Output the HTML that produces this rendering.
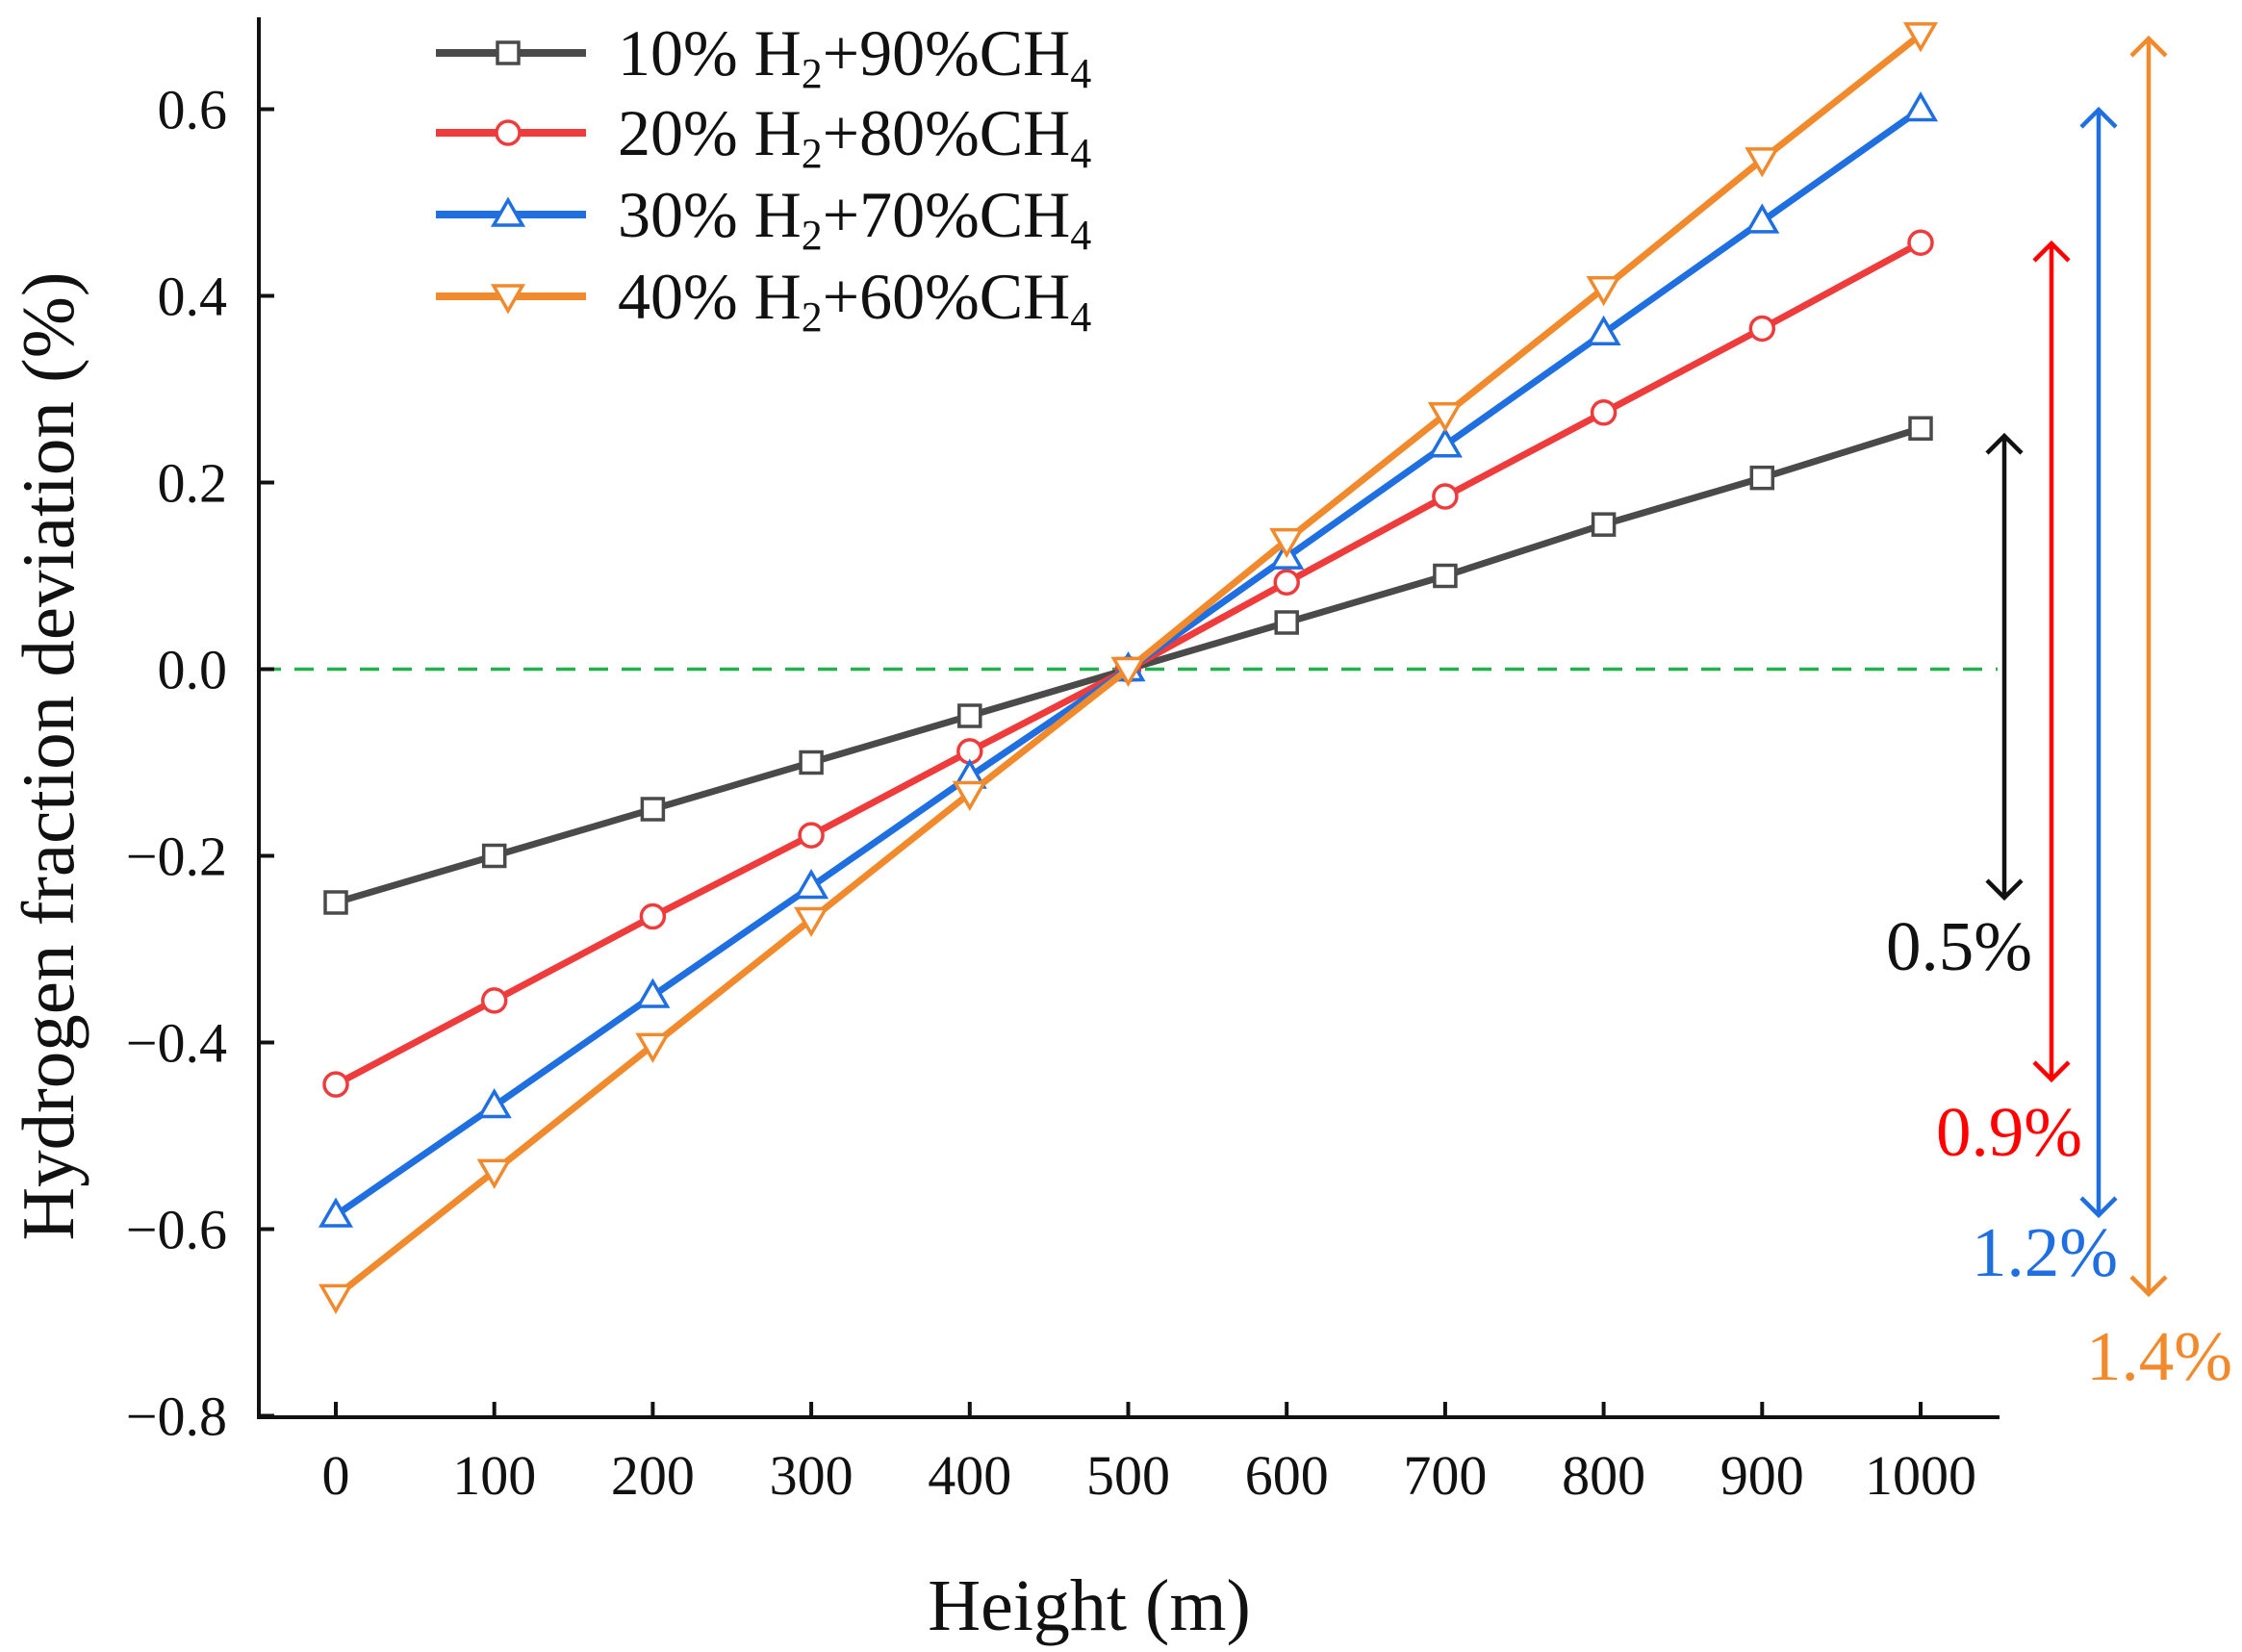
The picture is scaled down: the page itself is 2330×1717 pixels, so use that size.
<!DOCTYPE html>
<html><head><meta charset="utf-8"><style>
html,body{margin:0;padding:0;background:#fff;}
svg{display:block;font-family:"Liberation Serif",serif;}
</style></head><body>
<svg id="chart" width="2330" height="1717" viewBox="0 0 2330 1717">
<g id="plot"></g>
</svg>
<script>
const categories=[0,100,200,300,400,500,600,700,800,900,1000];
const s10=[-0.25,-0.20,-0.15,-0.10,-0.05,0,0.05,0.10,0.155,0.205,0.258];
const s20=[-0.445,-0.355,-0.265,-0.178,-0.088,0,0.093,0.185,0.275,0.365,0.457];
const s30=[-0.585,-0.468,-0.35,-0.233,-0.115,0,0.12,0.24,0.36,0.48,0.6];
const s40=[-0.672,-0.538,-0.403,-0.268,-0.133,0,0.138,0.273,0.408,0.546,0.68];
const yTicks=[0.6,0.4,0.2,0.0,-0.2,-0.4,-0.6,-0.8];
const yTickLabels=["0.6","0.4","0.2","0.0","\u22120.2","\u22120.4","\u22120.6","\u22120.8"];
const seriesNames=["10% H2+90%CH4","20% H2+80%CH4","30% H2+70%CH4","40% H2+60%CH4"];
const rangeLabels=["0.5%","0.9%","1.2%","1.4%"];

const NS="http://www.w3.org/2000/svg";
const g=document.getElementById('plot');
const X=v=>349+(v/1000)*1647;
const Y=v=>695.5-v*970;
function mk(t,a,p){const e=document.createElementNS(NS,t);for(const k in a)e.setAttribute(k,a[k]);(p||g).appendChild(e);return e;}

let e=mk('line',{x1:272,y1:Y(0),x2:2076,y2:Y(0),stroke:'#22b14c','stroke-width':3.5,'stroke-dasharray':'20 14'});



e=mk('line',{x1:269,y1:18,x2:269,y2:1475,stroke:'#111','stroke-width':4});


e=mk('line',{x1:267,y1:1473,x2:2078,y2:1473,stroke:'#111','stroke-width':4});



yTicks.forEach((v,i)=>{
  let t=mk('line',{x1:269,y1:Y(v),x2:285,y2:Y(v),stroke:'#111','stroke-width':4});
  
  
  let l=mk('text',{x:236,y:Y(v)+20,'text-anchor':'end','font-size':58,fill:'#111'});
  l.textContent=yTickLabels[i];
  
  
});
categories.forEach(c=>{
  let t=mk('line',{x1:X(c),y1:1473,x2:X(c),y2:1457,stroke:'#111','stroke-width':4});
  
  
  let l=mk('text',{x:X(c),y:1553,'text-anchor':'middle','font-size':58,fill:'#111'});
  l.textContent=String(c);
  
  
});

let xt=mk('text',{x:1132,y:1694,'text-anchor':'middle','font-size':76,fill:'#111'});
xt.textContent='Height (m)';


let yt=mk('text',{x:0,y:0,'text-anchor':'middle','font-size':77,fill:'#111',transform:'translate(76,786) rotate(-90)'});
yt.textContent='Hydrogen fraction deviation (%)';



const colors=['#4a4a4a','#ee3b3b','#1f6fe0','#f08a2c'];
const shapes=['square','circle','tri-up','tri-down'];
function marker(shape,x,y,c,p){
  const s=13;let m;
  if(shape==='square')m=mk('rect',{x:x-s+2,y:y-s+2,width:2*s-4,height:2*s-4,fill:'#fff',stroke:c,'stroke-width':3.5},p);
  else if(shape==='circle')m=mk('circle',{cx:x,cy:y,r:s-1,fill:'#fff',stroke:c,'stroke-width':3.5},p);
  else if(shape==='tri-up')m=mk('polygon',{points:`${x},${y-s-2} ${x-s-2},${y+s-2} ${x+s+2},${y+s-2}`,fill:'#fff',stroke:c,'stroke-width':3.5},p);
  else m=mk('polygon',{points:`${x},${y+s+2} ${x-s-2},${y-s+2} ${x+s+2},${y-s+2}`,fill:'#fff',stroke:c,'stroke-width':3.5},p);
  return m;
}
[s10,s20,s30,s40].forEach((s,si)=>{
  const grp=mk('g',{});
  
  
  const pts=s.map((v,i)=>X(categories[i])+','+Y(v)).join(' ');
  let pl=mk('polyline',{points:pts,fill:'none',stroke:colors[si],'stroke-width':7},grp);
  
  
  s.forEach((v,i)=>{
    let m=marker(shapes[si],X(categories[i]),Y(v),colors[si],grp);
    
    
  });
});

const legRows=[55,138,223,308];
const lg=mk('g',{});


seriesNames.forEach((n,i)=>{
  const y=legRows[i];
  let ln=mk('line',{x1:453,y1:y,x2:609,y2:y,stroke:colors[i],'stroke-width':8},lg);
  
  
  marker(shapes[i],528,y,colors[i],lg);
  let t=mk('text',{x:642,y:y+23,'font-size':68,fill:'#111'},lg);
  const pre=n.split(' ')[0];
  const rest=n.split(' ')[1].replace('H2','').replace('CH4','');
  t.innerHTML=`${pre} H<tspan font-size="44" dy="13">2</tspan><tspan dy="-13">${rest}CH</tspan><tspan font-size="44" dy="13">4</tspan>`;
  
  
});

const arrX=[2083,2132,2181,2233];
const arrTop=[453,253,114,40];
const arrBot=[933,1122,1263,1345];
const arrCol=['#111','#ff0000','#1f6fe0','#f08a2c'];
const labPos=[[2036,1008],[2088,1201],[2125,1326],[2244,1434]];
arrX.forEach((x,i)=>{
  const a=mk('g',{});
  
  
  mk('line',{x1:x,y1:arrTop[i]+2,x2:x,y2:arrBot[i]-2,stroke:arrCol[i],'stroke-width':4.5},a);
  mk('polyline',{points:`${x-18},${arrTop[i]+18} ${x},${arrTop[i]} ${x+18},${arrTop[i]+18}`,fill:'none',stroke:arrCol[i],'stroke-width':4.5},a);
  mk('polyline',{points:`${x-18},${arrBot[i]-18} ${x},${arrBot[i]} ${x+18},${arrBot[i]-18}`,fill:'none',stroke:arrCol[i],'stroke-width':4.5},a);
  let t=mk('text',{x:labPos[i][0],y:labPos[i][1],'text-anchor':'middle','font-size':73,fill:arrCol[i]});
  t.textContent=rangeLabels[i];
  
  
});
</script>
</body></html>
